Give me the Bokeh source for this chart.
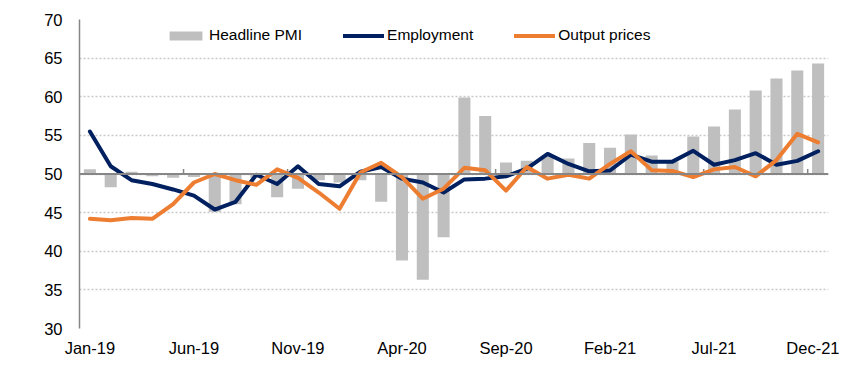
from bokeh.plotting import figure
from bokeh.models import Span, FixedTicker, Legend, LegendItem
from bokeh.embed import file_html
from bokeh.resources import INLINE

months = ["Jan-19", "Feb-19", "Mar-19", "Apr-19", "May-19", "Jun-19", "Jul-19", "Aug-19",
          "Sep-19", "Oct-19", "Nov-19", "Dec-19", "Jan-20", "Feb-20", "Mar-20", "Apr-20",
          "May-20", "Jun-20", "Jul-20", "Aug-20", "Sep-20", "Oct-20", "Nov-20", "Dec-20",
          "Jan-21", "Feb-21", "Mar-21", "Apr-21", "May-21", "Jun-21", "Jul-21", "Aug-21",
          "Sep-21", "Oct-21", "Nov-21", "Dec-21"]

headline_pmi = [50.6, 48.3, 50.3, 49.7, 49.5, 49.6, 45.1, 46.1, 49.5, 47.0, 48.1, 49.2,
                48.9, 49.2, 46.4, 38.8, 36.3, 41.8, 59.9, 57.5, 51.5, 51.7, 52.4, 52.0,
                54.0, 53.4, 55.1, 52.4, 51.6, 54.85, 56.15, 58.35, 60.8, 62.35, 63.4, 64.3]

employment = [55.5, 51.0, 49.2, 48.7, 48.0, 47.2, 45.4, 46.4, 49.9, 48.7, 51.0, 48.7,
              48.4, 50.3, 50.9, 49.4, 48.9, 47.6, 49.3, 49.4, 49.7, 50.7, 52.6, 51.3,
              50.35, 50.45, 52.5, 51.6, 51.6, 53.0, 51.2, 51.8, 52.7, 51.2, 51.7, 52.95]

output_prices = [44.2, 44.0, 44.3, 44.2, 46.1, 48.9, 50.0, 49.2, 48.6, 50.6, 49.5, 47.6,
                 45.5, 50.2, 51.45, 49.6, 46.8, 48.1, 50.8, 50.5, 47.85, 50.9, 49.4, 49.9,
                 49.4, 51.3, 52.95, 50.5, 50.4, 49.6, 50.6, 50.9, 49.7, 51.8, 55.2, 54.1]

baseline = 50
y_ticks = [30, 35, 40, 45, 50, 55, 60, 65, 70]
x_tick_every = 5

FONT = "Liberation Sans"
FS = "16.5px"
x = list(range(len(months)))

p = figure(width=839, height=359, x_range=(-0.5, len(months) - 0.5), y_range=(30, 70),
           output_backend="svg", toolbar_location=None,
           min_border_left=79, min_border_right=11, min_border_top=19, min_border_bottom=31)
p.outline_line_color = None
p.background_fill_color = "white"

# grid
p.xgrid.visible = False
p.ygrid.grid_line_color = "#c9c9c9"
p.ygrid.grid_line_dash = "2 2"
p.ygrid.grid_line_width = 1.3

# y axis
p.yaxis.ticker = FixedTicker(ticks=y_ticks)
p.yaxis.axis_line_color = "#868686"
p.yaxis.axis_line_width = 1.5
p.yaxis.major_tick_line_color = None
p.yaxis.minor_tick_line_color = None
p.yaxis.major_label_standoff = 11
p.yaxis.major_label_text_font = FONT
p.yaxis.major_label_text_font_size = FS
p.yaxis.major_label_text_color = "#000000"

# x axis
xt = x[::x_tick_every]
p.xaxis.ticker = FixedTicker(ticks=xt)
p.xaxis.major_label_overrides = {i: months[i] for i in xt}
p.xaxis.axis_line_color = None
p.xaxis.major_tick_line_color = None
p.xaxis.minor_tick_line_color = None
p.xaxis.major_label_standoff = 4
p.xaxis.major_label_text_font = FONT
p.xaxis.major_label_text_font_size = FS
p.xaxis.major_label_text_color = "#000000"

r_bar = p.vbar(x=x, top=headline_pmi, bottom=baseline, width=0.58,
               fill_color="#BFBFBF", line_color=None)

base = Span(location=baseline, dimension="width", line_color="#868686", line_width=2)
base.level = "glyph"
p.add_layout(base)

# small category-axis tick marks on the baseline (between categories, every 5 months)
tick_x = [i - 0.5 for i in x[x_tick_every::x_tick_every]]
p.segment(x0=tick_x, x1=tick_x, y0=[baseline] * len(tick_x),
          y1=[baseline + 0.65] * len(tick_x), line_color="#868686", line_width=1.5)

r_emp = p.line(x, employment, line_color="#002060", line_width=4,
               line_join="round", line_cap="round")
r_out = p.line(x, output_prices, line_color="#ED7D31", line_width=4,
               line_join="round", line_cap="round")

legend = Legend(items=[LegendItem(label="Headline PMI", renderers=[r_bar]),
                       LegendItem(label="Employment", renderers=[r_emp]),
                       LegendItem(label="Output prices", renderers=[r_out])],
                orientation="horizontal", location=(86, 284),
                padding=0, margin=0, spacing=41,
                glyph_width=41, glyph_height=11, label_height=11, label_standoff=3,
                label_text_font=FONT, label_text_font_size="15.5px",
                label_text_color="#000000",
                background_fill_alpha=0, border_line_alpha=0)
p.add_layout(legend)

open("out.html", "w").write(file_html(p, INLINE))
